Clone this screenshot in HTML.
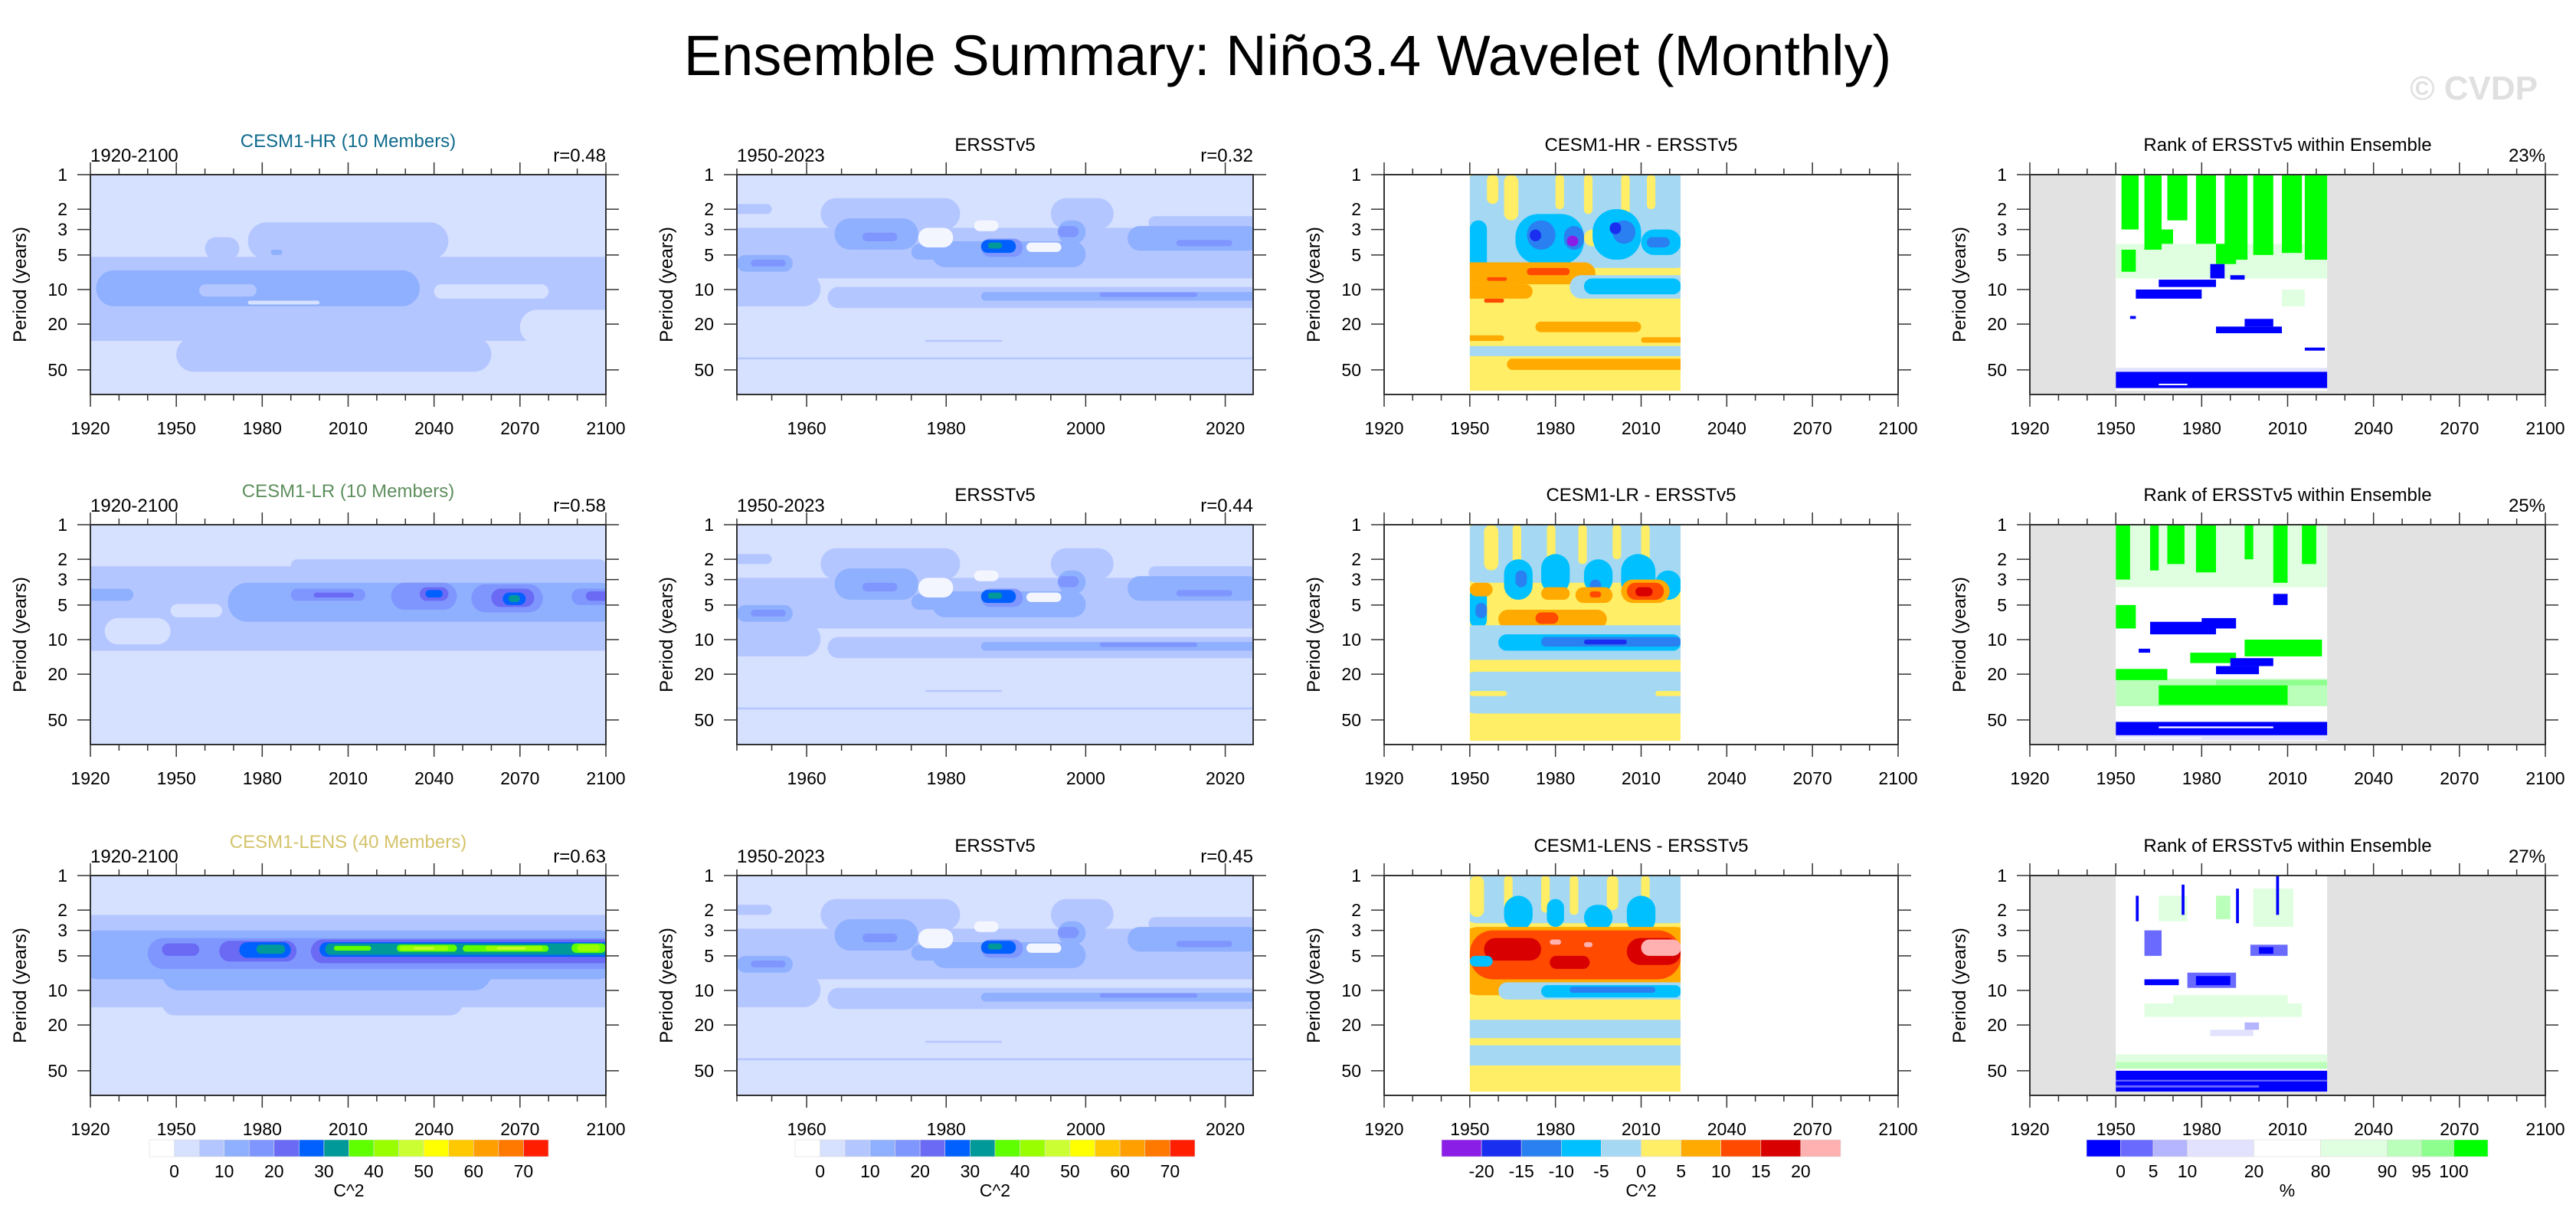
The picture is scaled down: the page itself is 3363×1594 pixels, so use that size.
<!DOCTYPE html>
<html><head><meta charset="utf-8"><style>
html,body{margin:0;padding:0;background:#fff;}
svg{display:block;font-family:"Liberation Sans",sans-serif;}
</style></head><body>
<svg id="fig" width="3363" height="1594" viewBox="0 0 3363 1594" xmlns="http://www.w3.org/2000/svg">
<rect width="3363" height="1594" fill="#fff"/>
<text x="1681" y="98" font-size="74" text-anchor="middle" fill="#000">Ensemble Summary: Niño3.4 Wavelet (Monthly)</text>
<text x="3313" y="130" font-size="44" font-weight="bold" text-anchor="end" fill="#e0e0e0">© CVDP</text>
</svg>
<script>
// ---- data (years, periods, levels) ----
const seqColors=["#ffffff","#d6e0ff","#b4c6ff","#8fb0ff","#7f96ff","#6a6af5","#0060ff","#009999","#60ff00","#99ff00","#ccff33","#ffff00","#ffc800","#ffa000","#ff7800","#ff1e00"];
const seqLabels=["0","10","20","30","40","50","60","70"];
const diffColors=["#8a1ee6","#1a2ef0","#2a80f0","#00c0ff","#a5d8f2","#ffee66","#ffaa00","#ff4a00","#d80000","#ffb0b0"];
const diffLabels=["-20","-15","-10","-5","0","5","10","15","20"];
const rankColors=["#0000ff","#6a6aff","#b4b4ff","#e2e2ff","#ffffff","#e0ffe0","#baffba","#8eff8e","#00ff00"];
const rankBounds=[0,5,10,20,80,90,95,100];
const rankWidths=[42,40,42,82,82,82,42,40,42];
const xTicksLong=[1920,1950,1980,2010,2040,2070,2100];
const xTicksObs=[1960,1980,2000,2020];
const yTicks=[1,2,3,5,10,20,50];
const rValues=["r=0.48","r=0.58","r=0.63"];
const rankPct=["23%","25%","27%"];
const modelNames=["CESM1-HR (10 Members)","CESM1-LR (10 Members)","CESM1-LENS (40 Members)"];
const modelShort=["CESM1-HR","CESM1-LR","CESM1-LENS"];
const modelColors=["#0e6a8c","#5e8f5e","#d4c36a"];
// blobs: [yearStart, yearEnd, periodTop, periodBottom, level]
const hrBlobs=[[1915,2105,5.2,28,1],[1950,2060,26,52,1],[1975,2045,2.6,5.5,1],[1960,1972,3.5,5.5,1],[2070,2105,15,30,0],[2040,2080,9,12,0],[1922,2035,6.8,14,2],[1958,1978,9,11.5,1],[1975,2000,12.5,13.5,0],[1983,1987,4.5,5,2]];
const obsBlobs=[[1950,2025,2.9,8,1],[1962,1982,1.6,3,1],[1995,2004,1.6,3,1],[2009,2025,2.3,3,1],[1948,1955,1.8,2.2,1],[1963,2030,9.5,14.5,1],[1948,1962,7,14,1],[1964,1976,2.4,4.5,2],[1978,2000,3.8,6.4,2],[1996,2000,2.5,4,2],[2006,2025,2.8,4.6,2],[1950,1958,5,7,2],[1985,2025,10.5,12.5,2],[1975,1985,4,5.5,2],[1968,1973,3.2,3.8,3],[1985,1991,3.6,5.2,3],[1996,1999,2.8,3.5,3],[2013,2021,3.7,4.2,3],[2002,2016,10.6,11.6,3],[1952,1957,5.5,6.3,3],[1985,1990,3.7,4.8,5],[1986,1988,3.9,4.4,6],[1976,1981,2.9,4.3,-1],[1984,1987.5,2.5,3.1,-1],[1991.5,1996.5,3.9,4.7,-1],[1950,2024,39,40.5,1],[1977,1988,27.5,28.5,1]];
const lrBlobs=[[1915,2105,2.3,12.5,1],[1990,2100,2.0,2.6,1],[1948,1966,4.9,6.4,0],[1925,1948,6.5,11,0],[1968,2105,3.2,7,2],[1915,1935,3.6,4.6,2],[1990,2016,3.6,4.6,3],[2025,2048,3.2,5.5,3],[2053,2078,3.3,5.8,3],[2088,2105,3.6,5,3],[1998,2012,3.9,4.3,4],[2035,2045,3.5,4.6,4],[2060,2075,3.6,5.2,4],[2093,2105,3.8,4.6,4],[2037,2043,3.7,4.3,5],[2064,2072,3.9,5,5],[2066,2070,4.1,4.7,6]];
const lensBlobs=[[1915,2105,2.2,14,1],[1945,2050,10,16.5,1],[1915,2105,3.0,8,2],[1945,2060,5,10,2],[1940,2105,3.5,6.5,3],[1945,1958,3.9,5,4],[1965,1992,3.7,5.6,4],[1997,2105,3.6,5.8,4],[1972,1990,3.8,5.2,5],[2000,2105,3.8,5.1,5],[1978,1988,4,4.8,6],[2002,2105,3.9,4.9,6],[2005,2018,4.1,4.5,7],[2027,2048,4,4.6,7],[2050,2080,4.05,4.6,7],[2088,2100,3.9,4.7,7],[2028,2045,4.1,4.5,8],[2058,2078,4.1,4.5,8],[2090,2098,4,4.6,8],[2033,2040,4.2,4.4,9],[2062,2072,4.2,4.4,9]];
const diffHr=[[1950,2024,1,90,5],[1945,2030,1,6.5,4],[1962,1967,1,2.5,5],[1980,1983,1,2,5],[1990,1993,1,2.2,5],[2003,2006,1,2.6,5],[2012,2015,1,2,5],[1956,1960,1,1.8,5],[1972,1975,2.5,3.5,5],[1990,1998,3,4.2,5],[1950,1956,2.5,7,3],[1966,1990,2.2,6,3],[1993,2010,2,5.5,3],[2010,2024,3,5,3],[1970,1980,2.5,4.5,2],[1983,1990,2.8,4.5,2],[2000,2008,2.5,4,2],[2012,2020,3.5,4.3,2],[1971,1975,3,3.8,1],[1999,2003,2.6,3.3,1],[1984,1988,3.4,4.2,0],[1945,1994,5.8,9,6],[1945,1972,9,12,6],[1985,2030,7.5,12,4],[1990,2024,8,11,3],[1960,1990,12.5,14,5],[1973,2010,19,23.5,6],[1945,1962,25,28,6],[2010,2030,26,29,6],[1945,2030,31,38,4],[1963,2030,40,50,6],[1970,1985,6.5,7.5,7],[1955,1962,12,13,7],[1956,1963,7.8,8.4,7]];
const diffLr=[[1950,2024,1,90,5],[1945,2030,1,3.2,4],[1955,1960,1,2.5,5],[1965,1968,1,2.2,5],[1977,1980,1,2.4,5],[1988,1991,1,2.2,5],[2000,2003,1,2,5],[2010,2013,1,2.3,5],[1950,1956,3.5,8,3],[1962,1972,2,4.5,3],[1975,1985,1.8,4,3],[1990,2000,2,4,3],[2003,2015,1.8,4.5,3],[2015,2024,2.5,4.5,3],[1952,1956,4.8,6.5,2],[1966,1970,2.5,3.5,2],[1992,1996,3,4,2],[1950,1958,3.2,4.2,6],[1975,1985,3.5,4.5,6],[1987,2000,3.5,4.8,6],[2003,2020,3,4.8,6],[2005,2018,3.2,4.5,7],[1992,1996,3.8,4.3,7],[2008,2014,3.5,4.2,8],[1960,1998,5.5,8,6],[1973,1981,5.8,7.3,7],[1945,2030,7.5,16,4],[1960,2024,9,12.5,3],[1975,2024,9.5,11.5,2],[1990,2005,10,11,1],[1945,2030,15,19,5],[1945,2030,19,44,4],[1950,1963,28,31,5],[2015,2024,28,31,5]];
const diffLens=[[1950,2024,1,90,5],[1945,2030,1,2.6,4],[1950,1955,1,2.3,5],[1962,1965,1,2,5],[1975,1978,1,2.1,5],[1985,1988,1,2.2,5],[1998,2002,1,2,5],[2010,2013,1,2.4,5],[1962,1972,1.5,3,3],[1977,1983,1.6,2.8,3],[1990,2000,1.8,3,3],[2005,2015,1.5,3.2,3],[1945,2030,2.8,11,6],[1950,2024,3,8,7],[1955,1975,3.5,5.5,8],[1978,1992,5,6.5,8],[2005,2024,3.5,6,8],[2010,2024,3.6,5,9],[1978,1982,3.6,4,9],[1990,1993,3.8,4.2,9],[1950,1958,5,6.2,3],[1960,2030,8.5,12,4],[1975,2024,9,11.5,3],[1985,2015,9.3,10.5,2],[1945,2030,18,26,4],[1945,2030,30,45,4]];
const rankHr=[[1950,2024,4,8,5],[1952,1958,1,3,8],[1960,1966,1,4.5,8],[1968,1975,1,2.5,8],[1978,1985,1,4,8],[1988,1996,1,5.5,8],[1998,2005,1,5,8],[2008,2015,1,4.8,8],[2016,2024,1,5.5,8],[1952,1957,4.5,7,8],[1965,1970,3,4,8],[1985,1992,4,6,8],[2008,2016,10,14,5],[1957,1980,10,12,0],[1965,1985,8.2,9.5,0],[1983,1988,6,8,0],[1990,1995,7.5,8.2,0],[1985,2008,21,24,0],[1995,2005,18,21,0],[2016,2023,32,34,0],[1955,1957,17,18,0],[1950,2024,48,52,3],[1950,2024,52,72,0],[1965,1975,66,68,4]];
const rankLr=[[1950,2024,1,3.5,5],[1950,1955,1,3,8],[1962,1965,1,2.5,8],[1968,1974,1,2.2,8],[1978,1985,1,2.6,8],[1995,1998,1,2,8],[2005,2010,1,3.2,8],[2015,2020,1,2.2,8],[1950,1957,5,8,8],[1976,1992,13,16,8],[1995,2022,10,14,8],[1950,2024,22,38,6],[1950,1968,18,22.5,8],[1965,2010,25,37,8],[1985,2024,22.5,25,7],[1962,1985,7,9,0],[1980,1992,6.5,8,0],[2005,2010,4,5,0],[1990,2005,14.5,17,0],[1985,2000,17,20,0],[1958,1962,12,13,0],[1950,2024,52,68,0],[1965,2005,57,59,4],[1950,2024,68,75,3],[1950,1980,71,73,4]];
const rankLens=[[1965,1975,1.5,2.5,5],[1998,2012,1.3,2.8,5],[1985,1990,1.5,2.4,6],[1957,1958,1.5,2.5,0],[1973,1974,1.2,2.2,0],[1992,1993,1.3,2.6,0],[2006,2007,1,2.2,0],[1975,1992,7,9.5,1],[1978,1990,7.5,9,0],[1960,1972,8,9,0],[1997,2010,4,5,1],[2000,2005,4.2,4.8,0],[1960,1966,3,5,1],[1995,2000,19,22,2],[1983,1998,22,25,3],[1960,2015,13,17,5],[1970,2010,11,13,5],[1950,2024,36,44,5],[1950,2024,42,48,6],[1950,2024,50,76,0],[1950,2024,60,62,1],[1950,2000,67,70,1]];

// ---- layout ----
const NS="http://www.w3.org/2000/svg";
const svg=document.getElementById('fig');
const lefts=[118,962,1807,2650], widths=[673,674,671,673], tops=[228,685,1143], H=287, PMAX=Math.pow(10,H/150);
function el(tag,attrs,parent){const e=document.createElementNS(NS,tag);for(const k in attrs)e.setAttribute(k,attrs[k]);(parent||svg).appendChild(e);return e;}
function txt(s,attrs,parent){const e=el('text',attrs,parent);e.textContent=s;return e;}
let clipId=0;

function panel(r,c,x0,x1,kind,blobs,round,majors,minorStep,bg,dataRange){
  const L=lefts[c],T=tops[r],W=widths[c];
  const xs=y=>L+(y-x0)/(x1-x0)*W;
  const ys=p=>T+Math.log10(Math.max(1,Math.min(PMAX,p)))/Math.log10(PMAX)*H;
  const g=el('g',{});
  
  
  const id='cp'+(clipId++);
  const cp=el('clipPath',{id:id},g);
  if(dataRange){el('rect',{x:xs(dataRange[0]),y:T,width:xs(dataRange[1])-xs(dataRange[0]),height:ys(dataRange[2])-T},cp);}
  else el('rect',{x:L,y:T,width:W,height:H},cp);
  const bgr=el('rect',{x:L,y:T,width:W,height:H,fill:bg},g);
  
  
  if(kind==='rank'){const wr=el('rect',{x:xs(dataRange[0]),y:T,width:xs(dataRange[1])-xs(dataRange[0]),height:ys(dataRange[2])-T,fill:'#fff'},g);
    }
  const dg=el('g',{'clip-path':'url(#'+id+')'},g);
  const pal=kind==='seq'?seqColors:(kind==='diff'?diffColors:rankColors);
  blobs.forEach((b,i)=>{
    const x=xs(b[0]),w=xs(b[1])-x,y=ys(b[2]),h=ys(b[3])-y;
    const col=kind==='seq'?(b[4]<0?'#f4f6ff':pal[b[4]+1]):pal[b[4]];
    const rr=(round&&i>0)?Math.min(h/2,w/2,30):0;
    const m=el('rect',{x:x,y:y,width:w,height:Math.max(h,1.5),rx:rr,ry:rr,fill:col},dg);
    
    
  });
  const fr=el('rect',{x:L,y:T,width:W,height:H,fill:'none',stroke:'#333','stroke-width':2},g);
  
  for(let y=x0;y<=x1+0.01;y+=minorStep){
    if(y<x0||y>x1)continue;
    const X=xs(y),maj=majors.includes(y);const len=maj?16:8;
    el('line',{x1:X,y1:T,x2:X,y2:T-len,stroke:'#333','stroke-width':1.5},g);
    el('line',{x1:X,y1:T+H,x2:X,y2:T+H+len,stroke:'#333','stroke-width':1.5},g);
  }
  majors.forEach(y=>{const t=txt(String(y),{x:xs(y),y:T+H+52,'font-size':23,'text-anchor':'middle'},g);
    });
  yTicks.forEach(p=>{const Y=ys(p);
    el('line',{x1:L-17,y1:Y,x2:L,y2:Y,stroke:'#333','stroke-width':1.5},g);
    el('line',{x1:L+W,y1:Y,x2:L+W+17,y2:Y,stroke:'#333','stroke-width':1.5},g);
    const t=txt(String(p),{x:L-30,y:Y+8,'font-size':23,'text-anchor':'end'},g);
    });
  const yl=txt('Period (years)',{x:0,y:0,'font-size':24,'text-anchor':'middle',transform:'translate('+(L-84)+','+(T+H/2)+') rotate(-90)'},g);
  
  return {g,L,T,W};
}

for(let r=0;r<3;r++){
  const mb=[hrBlobs,lrBlobs,lensBlobs][r];
  let p=panel(r,0,1920,2100,'seq',mb,true,xTicksLong,10,seqColors[1],null);
  let t=txt('1920-2100',{x:p.L,y:p.T-17,'font-size':24},p.g);
  t=txt(modelNames[r],{x:p.L+p.W/2,y:p.T-36,'font-size':24,'text-anchor':'middle',fill:modelColors[r]},p.g);
  t=txt(rValues[r],{x:p.L+p.W,y:p.T-17,'font-size':24,'text-anchor':'end'},p.g);

  p=panel(r,1,1950,2024,'seq',obsBlobs,true,xTicksObs,5,seqColors[1],null);
  t=txt('1950-2023',{x:p.L,y:p.T-17,'font-size':24},p.g);
  t=txt('ERSSTv5',{x:p.L+p.W/2,y:p.T-31,'font-size':24,'text-anchor':'middle'},p.g);
  t=txt(['r=0.32','r=0.44','r=0.45'][r],{x:p.L+p.W,y:p.T-17,'font-size':24,'text-anchor':'end'},p.g);

  p=panel(r,2,1920,2100,'diff',[diffHr,diffLr,diffLens][r],true,xTicksLong,10,'#ffffff',[1950,2023.8,76]);
  t=txt(modelShort[r]+' - ERSSTv5',{x:p.L+p.W/2,y:p.T-31,'font-size':24,'text-anchor':'middle'},p.g);

  p=panel(r,3,1920,2100,'rank',[rankHr,rankLr,rankLens][r],false,xTicksLong,10,'#e2e2e2',[1950,2023.8,76]);
  t=txt('Rank of ERSSTv5 within Ensemble',{x:p.L+p.W/2,y:p.T-31,'font-size':24,'text-anchor':'middle'},p.g);
  t=txt(rankPct[r],{x:p.L+p.W,y:p.T-17,'font-size':24,'text-anchor':'end'},p.g);
}

// ---- colorbars ----
function colorbar(name,x0,x1,colors,ws,labels,unit){
  const g=el('g',{});
  
  
  const tot=ws.reduce((a,b)=>a+b,0);let x=x0;const edges=[];
  colors.forEach((c,i)=>{const w=ws[i]/tot*(x1-x0);
    const b=el('rect',{x:x,y:1488,width:w,height:22,fill:c,stroke:'#ddd','stroke-width':0.6},g);
    
    x+=w;edges.push(x);});
  labels.forEach((l,i)=>{const t=txt(l,{x:edges[i],y:1537,'font-size':23,'text-anchor':'middle'},g);
    });
  const u=txt(unit,{x:(x0+x1)/2,y:1562,'font-size':23,'text-anchor':'middle'},g);
  
}
const eq=n=>Array(n).fill(1);
const seqLabelsFull=[];seqLabels.forEach((l,i)=>{seqLabelsFull.push(l);if(i<seqLabels.length-1)seqLabelsFull.push('');});
colorbar('colorbar-model',195,716,seqColors,eq(16),seqLabelsFull,'C^2');
colorbar('colorbar-obs',1038,1560,seqColors,eq(16),seqLabelsFull,'C^2');
colorbar('colorbar-difference',1882,2403,diffColors,eq(10),diffLabels,'C^2');
colorbar('colorbar-rank',2724,3248,rankColors,rankWidths,rankBounds.map(String),'%');
</script>
</body></html>
